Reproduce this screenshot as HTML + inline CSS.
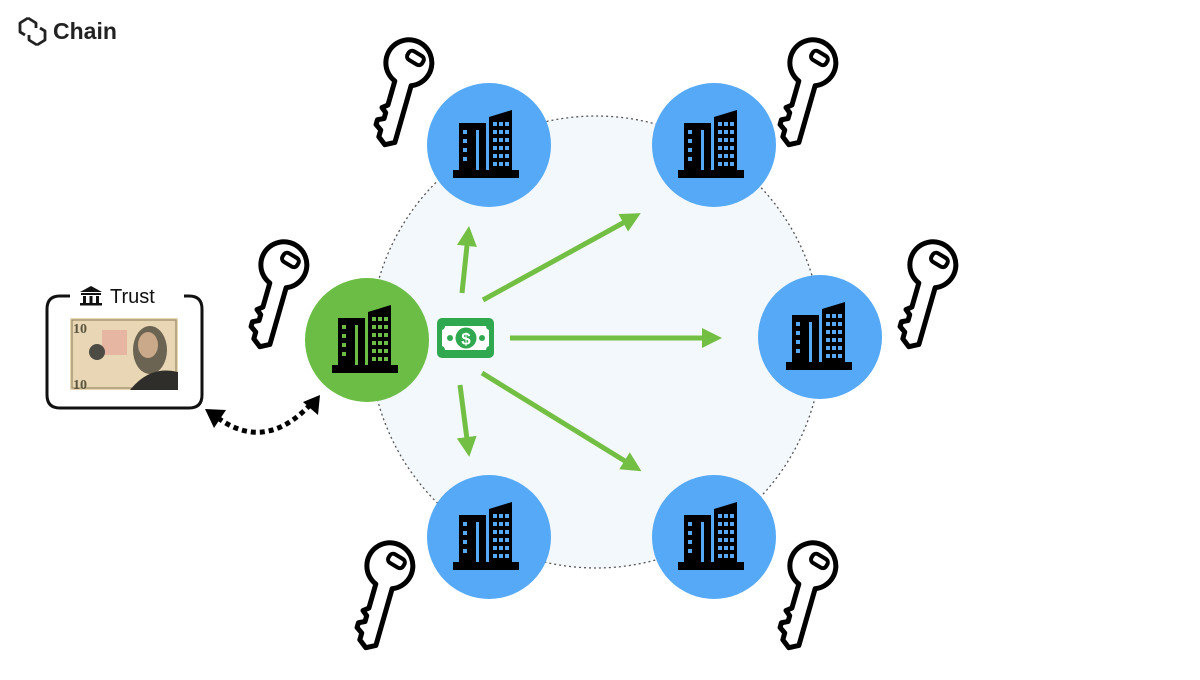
<!DOCTYPE html>
<html><head><meta charset="utf-8"><style>
body{margin:0;background:#fff;width:1200px;height:675px;overflow:hidden;font-family:"Liberation Sans",sans-serif}
</style></head><body>
<svg width="1200" height="675" viewBox="0 0 1200 675" xmlns="http://www.w3.org/2000/svg">
<defs>
<g id="bld">
  <rect x="0" y="60" width="66" height="8" fill="#000"/>
  <rect x="6" y="13" width="27" height="48" fill="#000"/>
  <polygon points="36,7 59,0 59,61 36,61" fill="#000"/>
</g>
<g id="key">
  <path d="M -8 20 L -8 45 L -13 49 L -8 53 L -8 59 L -14 62 L -14 67 L -8 71 L -8 78 L 0 84 L 9 79 L 9 20 A 23 23 0 1 0 -8 20 Z" fill="#fff" stroke="#000" stroke-width="5" stroke-linejoin="round"/>
  <rect x="-3" y="-13" width="17" height="10" rx="4" fill="#fff" stroke="#000" stroke-width="4" transform="rotate(15 5 -8)"/>
</g>
<marker id="ga" markerWidth="4" markerHeight="4" refX="2" refY="2" orient="auto" markerUnits="strokeWidth"><path d="M0,0 L4,2 L0,4 Z" fill="#72bf44"/></marker>
</defs>

<!-- logo -->
<g transform="translate(18,16)" fill="none" stroke="#222" stroke-width="2.8" stroke-linejoin="round">
  <path d="M10 2 L2 7 L2 16 L7 19"/>
  <path d="M10 2 L18 7 L18 12"/>
  <path d="M19 29 L27 24 L27 15 L22 12"/>
  <path d="M19 29 L11 24 L11 19"/>
</g>
<text x="53" y="39" font-size="23" fill="#222" font-family="Liberation Sans, sans-serif" font-weight="bold">Chain</text>

<!-- big circle -->
<circle cx="596" cy="342" r="226" fill="#f3f8fd" stroke="#555" stroke-width="1.3" stroke-dasharray="2,3"/>

<!-- arrows -->
<g stroke="#72bf44" stroke-width="5" fill="none" marker-end="url(#ga)">
  <line x1="462" y1="293" x2="468" y2="236"/>
  <line x1="483" y1="300" x2="632" y2="218"/>
  <line x1="510" y1="338" x2="712" y2="338"/>
  <line x1="482" y1="373" x2="633" y2="466"/>
  <line x1="460" y1="385" x2="468" y2="447"/>
</g>

<!-- money -->
<rect x="437" y="318" width="57" height="40" rx="5" fill="#2fa84f"/>
<path d="M445 326 L486 326 Q486 329 489 330 L489 346 Q486 347 486 350 L445 350 Q445 347 442 346 L442 330 Q445 329 445 326 Z" fill="#fff"/>
<circle cx="466" cy="338" r="10.5" fill="#2fa84f"/>
<text x="466" y="344.5" font-size="17" font-weight="bold" fill="#fff" text-anchor="middle">$</text>
<circle cx="450" cy="338" r="3" fill="#2fa84f"/>
<circle cx="482" cy="338" r="3" fill="#2fa84f"/>

<!-- circles -->
<circle cx="489" cy="145" r="62" fill="#55a9f7"/>
<circle cx="714" cy="145" r="62" fill="#55a9f7"/>
<circle cx="820" cy="337" r="62" fill="#55a9f7"/>
<circle cx="489" cy="537" r="62" fill="#55a9f7"/>
<circle cx="714" cy="537" r="62" fill="#55a9f7"/>
<circle cx="367" cy="340" r="62" fill="#6cbd45"/>

<use href="#bld" x="453" y="110"/>
<use href="#bld" x="678" y="110"/>
<use href="#bld" x="786" y="302"/>
<use href="#bld" x="453" y="502"/>
<use href="#bld" x="678" y="502"/>
<use href="#bld" x="332" y="305"/>
<!-- windows -->
<g fill="#55a9f7">
  <g id="w1" transform="translate(453,110)">
    <rect x="23" y="20" width="3" height="40"/>
    <rect x="10" y="20" width="4" height="4"/><rect x="10" y="29" width="4" height="4"/><rect x="10" y="38" width="4" height="4"/><rect x="10" y="47" width="4" height="4"/>
    <rect x="40" y="12" width="4" height="4"/><rect x="46" y="12" width="4" height="4"/><rect x="52" y="12" width="4" height="4"/>
    <rect x="40" y="20" width="4" height="4"/><rect x="46" y="20" width="4" height="4"/><rect x="52" y="20" width="4" height="4"/>
    <rect x="40" y="28" width="4" height="4"/><rect x="46" y="28" width="4" height="4"/><rect x="52" y="28" width="4" height="4"/>
    <rect x="40" y="36" width="4" height="4"/><rect x="46" y="36" width="4" height="4"/><rect x="52" y="36" width="4" height="4"/>
    <rect x="40" y="44" width="4" height="4"/><rect x="46" y="44" width="4" height="4"/><rect x="52" y="44" width="4" height="4"/>
    <rect x="40" y="52" width="4" height="4"/><rect x="46" y="52" width="4" height="4"/><rect x="52" y="52" width="4" height="4"/>
  </g>
  <use href="#w1" transform="translate(225,0)"/>
  <use href="#w1" transform="translate(333,192)"/>
  <use href="#w1" transform="translate(0,392)"/>
  <use href="#w1" transform="translate(225,392)"/>
</g>
<g fill="#6cbd45" transform="translate(-121,195)">
  <use href="#w1"/>
</g>

<!-- keys -->
<use href="#key" transform="translate(408,64) rotate(16)"/>
<use href="#key" transform="translate(812,64) rotate(16)"/>
<use href="#key" transform="translate(283,266) rotate(16)"/>
<use href="#key" transform="translate(932,266) rotate(16)"/>
<use href="#key" transform="translate(389,567) rotate(16)"/>
<use href="#key" transform="translate(812,567) rotate(16)"/>

<!-- trust box -->
<path d="M70 296 L60 296 Q47 296 47 309 L47 395 Q47 408 60 408 L189 408 Q202 408 202 395 L202 309 Q202 296 189 296 L184 296" fill="none" stroke="#111" stroke-width="3"/>
<g fill="#111">
  <polygon points="80,292 91,286 102,292"/>
  <rect x="81" y="293" width="20" height="2"/>
  <rect x="83" y="296" width="3" height="7"/><rect x="89.5" y="296" width="3" height="7"/><rect x="96" y="296" width="3" height="7"/>
  <rect x="80" y="303" width="22" height="2.5"/>
</g>
<text x="110" y="303" font-size="20" fill="#111">Trust</text>
<!-- bill -->
<rect x="70" y="318" width="108" height="72" fill="#e8d6b4"/>
<rect x="72" y="320" width="104" height="68" fill="none" stroke="#8a7a55" stroke-width="1"/>
<rect x="102" y="330" width="25" height="25" fill="#e7a89a" opacity="0.7"/>
<circle cx="97" cy="352" r="8" fill="#4c4c44"/>
<ellipse cx="150" cy="350" rx="17" ry="24" fill="#6b6452"/>
<ellipse cx="148" cy="345" rx="10" ry="13" fill="#caa98a"/>
<path d="M130 390 Q150 365 178 372 L178 390 Z" fill="#2f2e2a"/>
<text x="73" y="333" font-size="14" font-weight="bold" fill="#5b553f" font-family="Liberation Serif, serif">10</text>
<text x="73" y="389" font-size="14" font-weight="bold" fill="#5b553f" font-family="Liberation Serif, serif">10</text>

<!-- dotted arrow -->
<path d="M218 418 Q265 452 310 405" fill="none" stroke="#000" stroke-width="5" stroke-dasharray="5,4"/>
<polygon points="205,409 226,410 214,428" fill="#000"/>
<polygon points="320,395 303,402 318,415" fill="#000"/>
</svg>
</body></html>
